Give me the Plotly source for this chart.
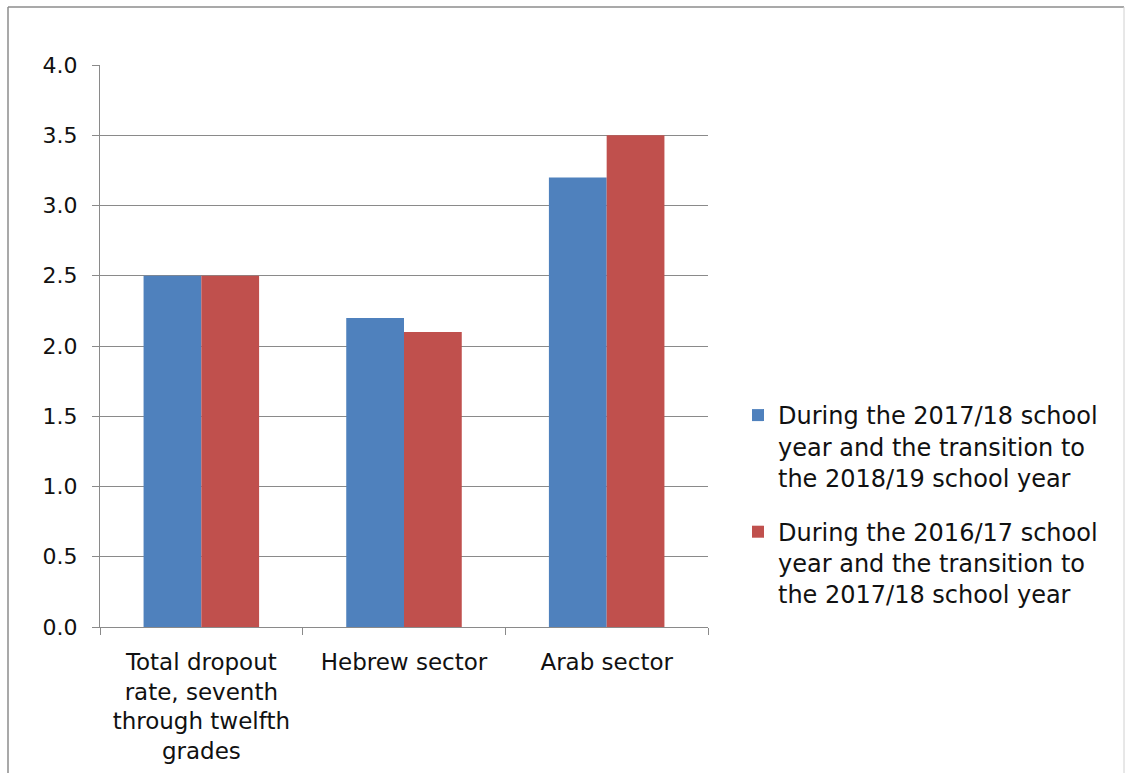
import plotly.graph_objects as go

categories = [
    "Total dropout<br>rate, seventh<br>through twelfth<br>grades",
    "Hebrew sector",
    "Arab sector",
]
series_names = [
    "During the 2017/18 school<br>year and the transition to<br>the 2018/19 school year",
    "During the 2016/17 school<br>year and the transition to<br>the 2017/18 school year",
]
values_2017_18 = [2.5, 2.2, 3.2]
values_2016_17 = [2.5, 2.1, 3.5]
y_ticks = [0.0, 0.5, 1.0, 1.5, 2.0, 2.5, 3.0, 3.5, 4.0]

W, H = 1125, 773
L, R, T, B = 100, 708, 65, 627  # plot-area edges in pixels

def px_x(x):
    return (x - L) / (R - L)

def px_y(y):
    return (B - y) / (B - T)

FONT = "DejaVu Sans"
GRID = "#8a8a8a"
TEXT = "#111111"

fig = go.Figure()
fig.add_trace(go.Bar(x=categories, y=values_2017_18, name=series_names[0],
                     marker=dict(color="#4F81BD", line=dict(width=0)),
                     legendgroup="a"))
fig.add_trace(go.Bar(x=categories, y=values_2016_17, name=series_names[1],
                     marker=dict(color="#C0504D", line=dict(width=0)),
                     legendgroup="b"))

fig.update_layout(
    width=W, height=H,
    margin=dict(l=L, r=W - R, t=T, b=H - B, autoexpand=False),
    paper_bgcolor="white", plot_bgcolor="white",
    barmode="group", bargap=0.43, bargroupgap=0,
    font=dict(family=FONT, color=TEXT),
    legend=dict(
        x=px_x(738), xanchor="left",
        y=px_y(505), yanchor="middle",
        font=dict(family=FONT, size=24, color=TEXT),
        traceorder="grouped", tracegroupgap=20,
        valign="top",
        bgcolor="rgba(0,0,0,0)",
    ),
    xaxis=dict(
        type="category",
        showline=True, linecolor=GRID, linewidth=1,
        ticks="outside", tickson="boundaries", ticklen=7, tickcolor=GRID,
        ticklabelstandoff=14,
        tickfont=dict(family=FONT, size=23, color=TEXT),
        showgrid=False,
    ),
    yaxis=dict(
        range=[0, 4], tickvals=y_ticks, tickformat=".1f",
        showline=True, linecolor=GRID, linewidth=1,
        ticks="outside", ticklen=7, tickcolor=GRID,
        ticklabelstandoff=10,
        showgrid=True, gridcolor=GRID, gridwidth=1,
        zeroline=False,
        tickfont=dict(family=FONT, size=22, color=TEXT),
    ),
    shapes=[
        dict(type="line", xref="paper", yref="paper",
             x0=px_x(8), x1=px_x(1124), y0=px_y(7), y1=px_y(7),
             line=dict(color="#8c8c8c", width=1.5)),
        dict(type="line", xref="paper", yref="paper",
             x0=px_x(8), x1=px_x(8), y0=px_y(7), y1=px_y(773),
             line=dict(color="#8c8c8c", width=1.5)),
        dict(type="line", xref="paper", yref="paper",
             x0=px_x(1124), x1=px_x(1124), y0=px_y(7), y1=px_y(773),
             line=dict(color="#d0d0d0", width=1)),
    ],
)

fig.write_html("out.html")
